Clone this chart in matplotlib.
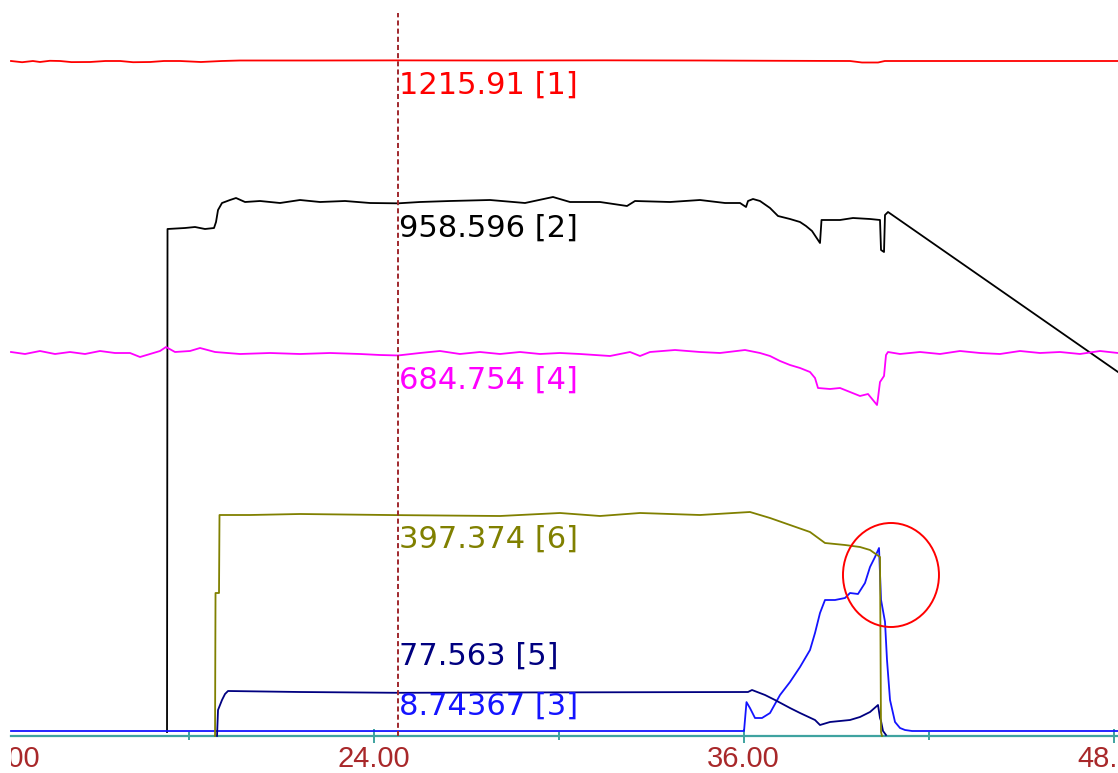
import numpy as np
import matplotlib.pyplot as plt
from matplotlib.patches import Ellipse
from matplotlib.transforms import Bbox, TransformedBbox

# trace 1 (red)
t1 = [12.24, 12.60, 12.95, 13.18, 13.50, 13.83, 14.20, 14.80, 15.30, 15.78, 16.20,
      16.75, 17.20, 17.72, 18.40, 19.08, 19.67, 22.00, 24.79, 28.10, 31.50, 34.59,
      37.00, 39.45, 39.84, 40.36, 40.58, 44.32, 48.14]
v1 = [1214.8, 1212.6, 1214.8, 1213.0, 1215.2, 1214.8, 1212.8, 1213.0, 1214.8, 1214.8, 1212.6,
      1213.0, 1214.8, 1214.8, 1213.0, 1214.8, 1215.7, 1215.7, 1215.91, 1215.7, 1216.0, 1215.7,
      1215.2, 1214.8, 1212.1, 1212.1, 1214.8, 1214.8, 1214.8]

# trace 2 (black)
t2 = [17.300, 17.316, 17.883, 18.207, 18.532, 18.824, 18.889, 18.954, 19.083, 19.343,
      19.538, 19.830, 20.317, 20.965, 21.613, 22.262, 23.073, 23.884, 24.79, 25.503,
      26.478, 27.775, 28.910, 29.818, 30.370, 31.343, 32.219, 32.478, 33.614, 34.586,
      35.397, 35.884, 36.079, 36.143, 36.305, 36.532, 36.857, 37.116, 37.505, 37.830,
      38.024, 38.219, 38.413, 38.478, 38.527, 39.127, 39.548, 40.100, 40.424, 40.457,
      40.554, 40.586, 40.684, 48.143]
v2 = [7.0, 912.4, 914.2, 916.0, 912.4, 914.2, 925.0, 946.6, 959.2, 964.6,
      968.2, 961.0, 962.8, 959.2, 964.6, 961.0, 962.8, 959.2, 958.596, 961.0,
      962.8, 964.6, 959.2, 970.0, 961.0, 961.0, 953.8, 962.8, 961.0, 964.6,
      959.2, 959.2, 952.0, 962.8, 966.4, 962.8, 950.2, 935.8, 930.4, 925.0,
      917.8, 908.8, 892.6, 887.2, 928.6, 928.6, 932.2, 930.4, 928.6, 874.6,
      871.0, 937.6, 943.0, 655.0]

# trace 3 (blue)
t3 = [12.24, 24.79, 35.981, 36.014, 36.094, 36.208, 36.370, 36.597, 36.857, 37.181,
      37.505, 37.830, 38.154, 38.316, 38.478, 38.640, 38.965, 39.289, 39.451, 39.710,
      39.937, 40.100, 40.262, 40.392, 40.457, 40.586, 40.651, 40.749, 40.911, 41.073,
      41.235, 41.462, 48.143]
v3 = [8.8, 8.74367, 8.8, 8.8, 60.8, 50.0, 32.2, 32.2, 41.2, 73.6,
      97.0, 124.0, 154.6, 185.2, 221.2, 244.6, 244.6, 248.2, 257.2, 255.4,
      275.2, 304.0, 322.0, 338.2, 245.0, 205.4, 136.6, 64.6, 25.0, 14.2,
      10.6, 8.8, 8.8]

# trace 4 (magenta)
t4 = [12.24, 12.694, 13.180, 13.667, 14.153, 14.640, 15.127, 15.613, 16.100, 16.424,
      16.749, 17.073, 17.268, 17.559, 18.046, 18.370, 18.857, 19.668, 20.641, 21.613,
      22.586, 23.560, 24.208, 24.79, 25.503, 26.152, 26.800, 27.449, 28.100, 28.748,
      29.397, 30.045, 30.694, 31.667, 32.316, 32.640, 32.965, 33.776, 34.586, 35.235,
      36.046, 36.532, 36.857, 37.181, 37.505, 37.830, 38.154, 38.316, 38.413, 38.803,
      39.127, 39.451, 39.775, 40.035, 40.327, 40.359, 40.424, 40.554, 40.619, 40.684,
      41.073, 41.722, 42.370, 43.019, 43.667, 44.316, 44.965, 45.613, 46.262, 46.911,
      47.559, 48.143]
v4 = [691.0, 687.4, 692.8, 687.4, 691.0, 687.4, 692.8, 689.2, 689.2, 682.0,
      687.4, 692.8, 700.0, 691.0, 692.8, 698.2, 691.0, 687.4, 689.2, 687.4,
      689.2, 687.4, 685.6, 684.754, 689.2, 692.8, 687.4, 691.0, 687.4, 691.0,
      687.4, 689.2, 687.4, 683.8, 691.0, 683.8, 691.0, 694.6, 691.0, 689.2,
      694.6, 689.2, 683.8, 674.8, 667.6, 662.2, 655.0, 644.2, 626.2, 624.4,
      626.2, 619.0, 611.8, 615.4, 595.6, 608.2, 637.0, 647.8, 685.6, 691.0,
      687.4, 691.0, 687.4, 692.8, 689.2, 687.4, 692.8, 689.2, 691.0, 687.4,
      692.8, 689.2]

# trace 5 (navy)
t5 = [18.922, 18.954, 19.083, 19.181, 19.278, 21.613, 24.79, 28.100, 36.143, 36.273,
      36.695, 37.019, 37.505, 37.830, 38.316, 38.478, 38.803, 39.451, 39.775, 40.100,
      40.359, 40.424, 40.457, 40.522, 40.619]
v5 = [0.0, 46.6, 64.6, 75.4, 80.8, 79.0, 77.563, 78.1, 79.0, 82.6,
      73.6, 64.6, 50.2, 41.2, 28.6, 19.6, 25.0, 28.6, 34.0, 43.0,
      55.6, 32.2, 26.8, 8.8, 1.6]

# trace 6 (olive)
t6 = [18.857, 18.873, 18.986, 19.002, 19.992, 21.613, 24.79, 28.100, 30.045, 31.343,
      32.640, 34.586, 36.208, 36.857, 37.505, 38.154, 38.640, 39.289, 39.775, 40.100,
      40.424, 40.457, 40.489]
v6 = [0.0, 257.2, 257.2, 397.6, 397.6, 399.4, 397.374, 395.8, 401.2, 395.8,
      401.2, 397.6, 403.0, 392.2, 379.6, 367.0, 347.2, 343.6, 340.0, 334.6,
      322.0, 7.0, 0.0]

series = [
    (1, t1, v1, '#ff0000'),
    (2, t2, v2, '#000000'),
    (3, t3, v3, '#1414ff'),
    (4, t4, v4, '#ff00ff'),
    (5, t5, v5, '#000080'),
    (6, t6, v6, '#808000'),
]

cursor_t = 24.79
x_ticks = [12, 24, 36, 48]
x_minor = [18, 30, 42]

axis_col = '#3fa3a0'
tick_txt = '#a8282a'

fig = plt.figure(figsize=(11.18, 7.73), dpi=100)
ax = fig.add_axes([0, 0, 1, 1])
ax.set_xlim(11.883, 48.143)
ax.set_ylim(-66.8, 1324.6)

for num, t, v, col in series:
    ax.plot(t, v, color=col, lw=1.3, zorder=3)

# cursor
ax.vlines(cursor_t, 0, 1301.8, colors='#a0282d', lw=1.4,
          linestyles=[(0, (2.6, 1.6))], zorder=4)

# labels at the cursor, pushed up so they don't collide near the axis
drop, step, floor = 18, 90, 79
vals = {num: float(np.interp(cursor_t, t, v)) for num, t, v, col in series}
prev = floor - step
for num, t, v, col in sorted(series, key=lambda s: vals[s[0]]):
    top = max(vals[num] - drop, prev + step)
    ax.text(cursor_t + 0.02, top, f"{vals[num]:g} [{num}]", color=col,
            fontsize=22, family='DejaVu Sans', ha='left', va='top', zorder=5)
    prev = top

ax.add_patch(Ellipse((40.78, 289.6), 3.113, 187.2, fill=False,
                     edgecolor='#ff0000', lw=1.4, zorder=6))

for s in ['left', 'right', 'top']:
    ax.spines[s].set_visible(False)
ax.spines['bottom'].set_position(('data', 0))
ax.spines['bottom'].set_bounds(12.24, 48.143)
ax.spines['bottom'].set_color(axis_col)
ax.spines['bottom'].set_linewidth(1.6)
ax.set_yticks([])
ax.set_xticks(x_ticks)
ax.set_xticks(x_minor, minor=True)
ax.set_xticklabels([f"{x:.2f}" for x in x_ticks])
ax.tick_params(axis='x', which='major', direction='inout', length=9.5, width=1.4,
               color=axis_col, labelcolor=tick_txt, labelsize=21, pad=2)
ax.tick_params(axis='x', which='minor', direction='inout', length=6, width=1.4,
               color=axis_col)
ax.xaxis.get_major_ticks()[0].tick1line.set_visible(False)

# the 12.00 label hangs off the left edge and is cut where the trace area starts
clip = TransformedBbox(Bbox([[10.5 / 1118, 0], [1, 1]]), fig.transFigure)
for lbl in ax.get_xticklabels():
    lbl.set_family('Liberation Sans')
    lbl.set_clip_box(clip)
    lbl.set_clip_on(True)

fig.savefig('out.png', dpi=100)
